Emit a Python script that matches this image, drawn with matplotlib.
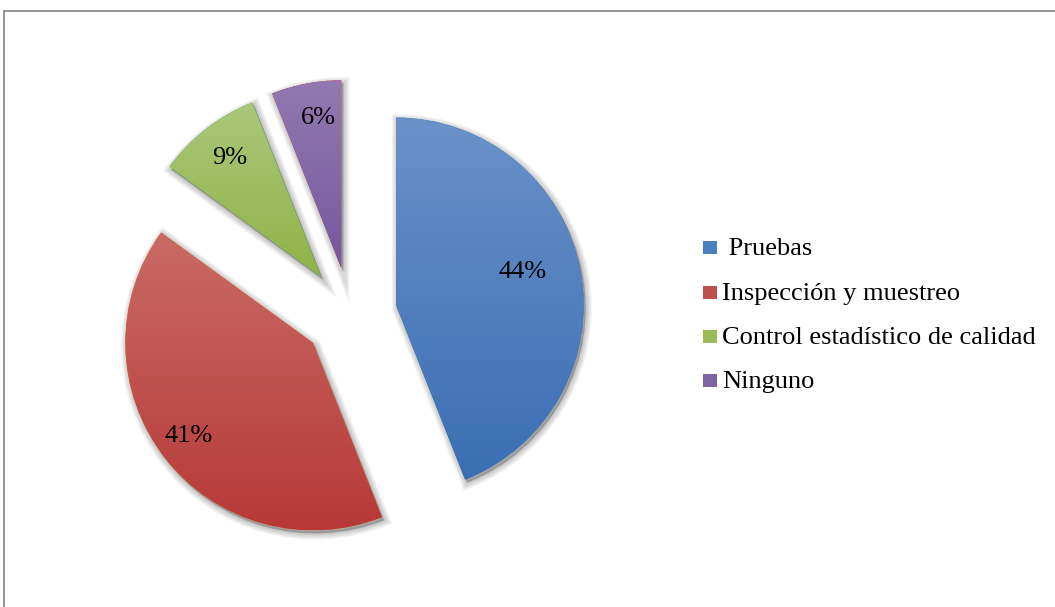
import numpy as np
import matplotlib.pyplot as plt
from matplotlib.colors import LinearSegmentedColormap
from matplotlib.patches import Rectangle, Wedge
from matplotlib.lines import Line2D

plt.rcParams['font.family'] = 'serif'
plt.rcParams['font.serif'] = ['Liberation Serif', 'DejaVu Serif']

labels = [' Pruebas', 'Inspección y muestreo', 'Control estadístico de calidad', 'Ninguno']
values = [44, 41, 9, 6]
top_colors = ['#6b91c9', '#c96a65', '#aac77b', '#9279b1']
bottom_colors = ['#3a6eb3', '#b73937', '#90b346', '#76579e']
legend_colors = ['#4a7fc0', '#c0504d', '#9bbb59', '#8064a2']
label_dist = [0.70, 0.83, 0.80, 0.81]
label_turn = [4, -1, 0, -2]

W, H = 1055, 607
fig = plt.figure(figsize=(W / 100, H / 100), dpi=100)
ax = fig.add_axes([0, 0, 1, 1])

center = (350, H - 314)
radius = 187.6

# explode is in data units here, so scale it by the radius
wedges, texts, autotexts = ax.pie(
    values, center=center, radius=radius, startangle=90, counterclock=False,
    explode=[0.25 * radius] * len(values), autopct='%1.0f%%', pctdistance=0.8,
    textprops=dict(fontsize=19, color='black'))

for i, w in enumerate(wedges):
    cx, cy = w.center
    # soft drop shadow under each slice
    for k in range(5):
        sh = Wedge((cx + 2, cy - 3), radius, w.theta1, w.theta2,
                   facecolor='black', edgecolor='black', alpha=0.05,
                   linewidth=1 + 2 * k, zorder=0.5)
        ax.add_patch(sh)
    # vertical gradient fill clipped to the slice
    ext = w.get_path().get_extents()
    cmap = LinearSegmentedColormap.from_list('g%d' % i, [bottom_colors[i], top_colors[i]])
    grad = np.linspace(0, 1, 256).reshape(-1, 1)
    im = ax.imshow(grad, cmap=cmap, origin='lower', aspect='auto',
                   extent=[ext.x0, ext.x1, ext.y0, ext.y1], zorder=1.1)
    im.set_clip_path(w)
    w.set_edgecolor('none')

    mid = np.deg2rad((w.theta1 + w.theta2) / 2 + label_turn[i])
    autotexts[i].set_position((cx + label_dist[i] * radius * np.cos(mid),
                               cy + label_dist[i] * radius * np.sin(mid)))
    autotexts[i].set_zorder(3)

ax.set_xlim(0, W)
ax.set_ylim(0, H)
ax.set_aspect('auto')
ax.axis('off')

# legend
baselines = [255, 300, 344, 388]
for lab, col, yb in zip(labels, legend_colors, baselines):
    ax.add_patch(Rectangle((703, H - yb + 1), 14, 13, facecolor=col, edgecolor='none', zorder=2))
    ax.text(722, H - yb, lab, fontsize=19, ha='left', va='baseline', color='black')

# chart area border
ax.add_line(Line2D([3.5, W], [H - 11, H - 11], color='#8c8c8c', linewidth=1.3))
ax.add_line(Line2D([3.5, 3.5], [0, H - 11], color='#8c8c8c', linewidth=1.3))

fig.savefig('out.png', dpi=100)
